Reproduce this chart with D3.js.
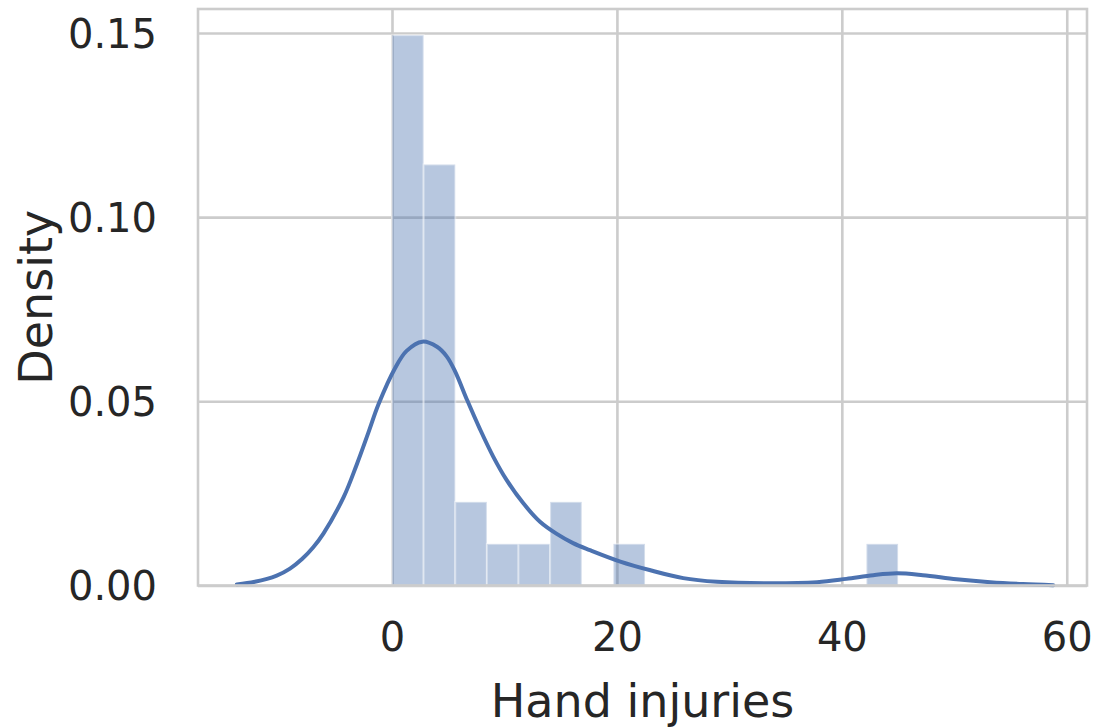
<!DOCTYPE html>
<html>
<head>
<meta charset="utf-8">
<script src="https://cdn.jsdelivr.net/npm/d3@7"></script>
<style>
  html, body { margin: 0; padding: 0; background: #ffffff; }
  svg { display: block; }
  text { font-family: "DejaVu Sans", sans-serif; fill: #262626; }
</style>
</head>
<body>
<svg id="chart" width="1095" height="728"></svg>
<script>
// Histogram of hand injuries (density per bin), bins span 0..45 in 16 equal steps
const histMin = 0;
const histMax = 45;
const binDensity = [0.1494, 0.1143, 0.0227, 0.0113, 0.0113, 0.0227, 0, 0.0113,
                    0, 0, 0, 0, 0, 0, 0, 0.0113];

// Kernel density estimate curve
const kdeX = [-13.8, -12.2, -10.25, -9.07, -8.0, -7.0, -6.1, -4.3, -3.14, -2.1, -1.2,
              0.27, 1.3, 2.7, 4.0, 4.86, 5.6, 6.7, 7.83, 9.0, 10.2, 11.68, 13.16,
              14.65, 16.1, 17.6, 20.3, 22.9, 25.9, 28.9, 33.3, 37.8, 40.4, 42.8,
              44.9, 47.2, 50.2, 53.2, 56.1, 58.8];
const kdeY = [0.0003, 0.0010, 0.0027, 0.0046, 0.0072, 0.0104, 0.0141, 0.0240, 0.0328,
              0.0415, 0.0492, 0.0590, 0.0637, 0.0662, 0.0648, 0.0622, 0.0582, 0.0502,
              0.0424, 0.0350, 0.0286, 0.0223, 0.0173, 0.0140, 0.0115, 0.0096, 0.0065,
              0.0042, 0.0020, 0.0010, 0.0006, 0.0009, 0.0018, 0.0028, 0.0033, 0.0028,
              0.0017, 0.0009, 0.0004, 0.0001];

// Axis ticks and titles
const xTicks = [0, 20, 40, 60];
const yTicks = [0.00, 0.05, 0.10, 0.15];
const xTitle = "Hand injuries";
const yTitle = "Density";

const svg = d3.select("#chart");
const W = 1095, H = 728;
const plot = { left: 198, right: 1087, top: 9, bottom: 585.5 };
const blue = "#4c72b0";
const grid = "#cccccc";

const x = d3.scaleLinear().domain([-17.25, 61.8]).range([plot.left, plot.right]);
const y = d3.scaleLinear().domain([0, 0.1565]).range([plot.bottom, plot.top]);

svg.append("rect").attr("width", W).attr("height", H).attr("fill", "#ffffff");

// grid lines
const xAxis = d3.axisBottom(x).tickValues(xTicks).tickSize(-(plot.bottom - plot.top))
  .tickFormat(d3.format("d")).tickPadding(37);
const yAxis = d3.axisLeft(y).tickValues(yTicks).tickSize(-(plot.right - plot.left))
  .tickFormat(d3.format(".2f")).tickPadding(41);

const gx = svg.append("g").attr("transform", `translate(0,${plot.bottom})`).call(xAxis);
const gy = svg.append("g").attr("transform", `translate(${plot.left},0)`).call(yAxis);
[gx, gy].forEach(g => {
  g.select(".domain").remove();
  g.selectAll(".tick line").attr("stroke", grid).attr("stroke-width", 2.6);
  g.selectAll(".tick text").attr("fill", "#262626").attr("font-size", 40)
    .attr("font-family", "DejaVu Sans, sans-serif");
});
gx.selectAll(".tick text").attr("dy", "0.71em");
gy.selectAll(".tick text").attr("dy", "0.36em");

// histogram bars
const binW = (histMax - histMin) / binDensity.length;
const bins = binDensity.map((d, i) => ({ x0: histMin + i * binW, x1: histMin + (i + 1) * binW, d }));
svg.append("g").selectAll("rect").data(bins.filter(b => b.d > 0)).join("rect")
  .attr("x", b => x(b.x0))
  .attr("width", b => x(b.x1) - x(b.x0))
  .attr("y", b => y(b.d))
  .attr("height", b => y(0) - y(b.d))
  .attr("fill", blue).attr("fill-opacity", 0.4)
  .attr("stroke", "#ffffff").attr("stroke-opacity", 0.4).attr("stroke-width", 2);

// density curve
const kde = kdeX.map((v, i) => [v, kdeY[i]]);
svg.append("path").datum(kde)
  .attr("fill", "none").attr("stroke", blue).attr("stroke-width", 4)
  .attr("stroke-linejoin", "round").attr("stroke-linecap", "round")
  .attr("d", d3.line().x(d => x(d[0])).y(d => y(d[1])).curve(d3.curveCatmullRom.alpha(0.5)));

// axes frame
svg.append("rect")
  .attr("x", plot.left).attr("y", plot.top)
  .attr("width", plot.right - plot.left).attr("height", plot.bottom - plot.top)
  .attr("fill", "none").attr("stroke", grid).attr("stroke-width", 2.6);

// axis titles
svg.append("text")
  .attr("x", (plot.left + plot.right) / 2).attr("y", 717)
  .attr("text-anchor", "middle").attr("font-size", 46).text(xTitle);
svg.append("text")
  .attr("transform", `translate(52,${(plot.top + plot.bottom) / 2}) rotate(-90)`)
  .attr("text-anchor", "middle").attr("font-size", 46).text(yTitle);
</script>
</body>
</html>
